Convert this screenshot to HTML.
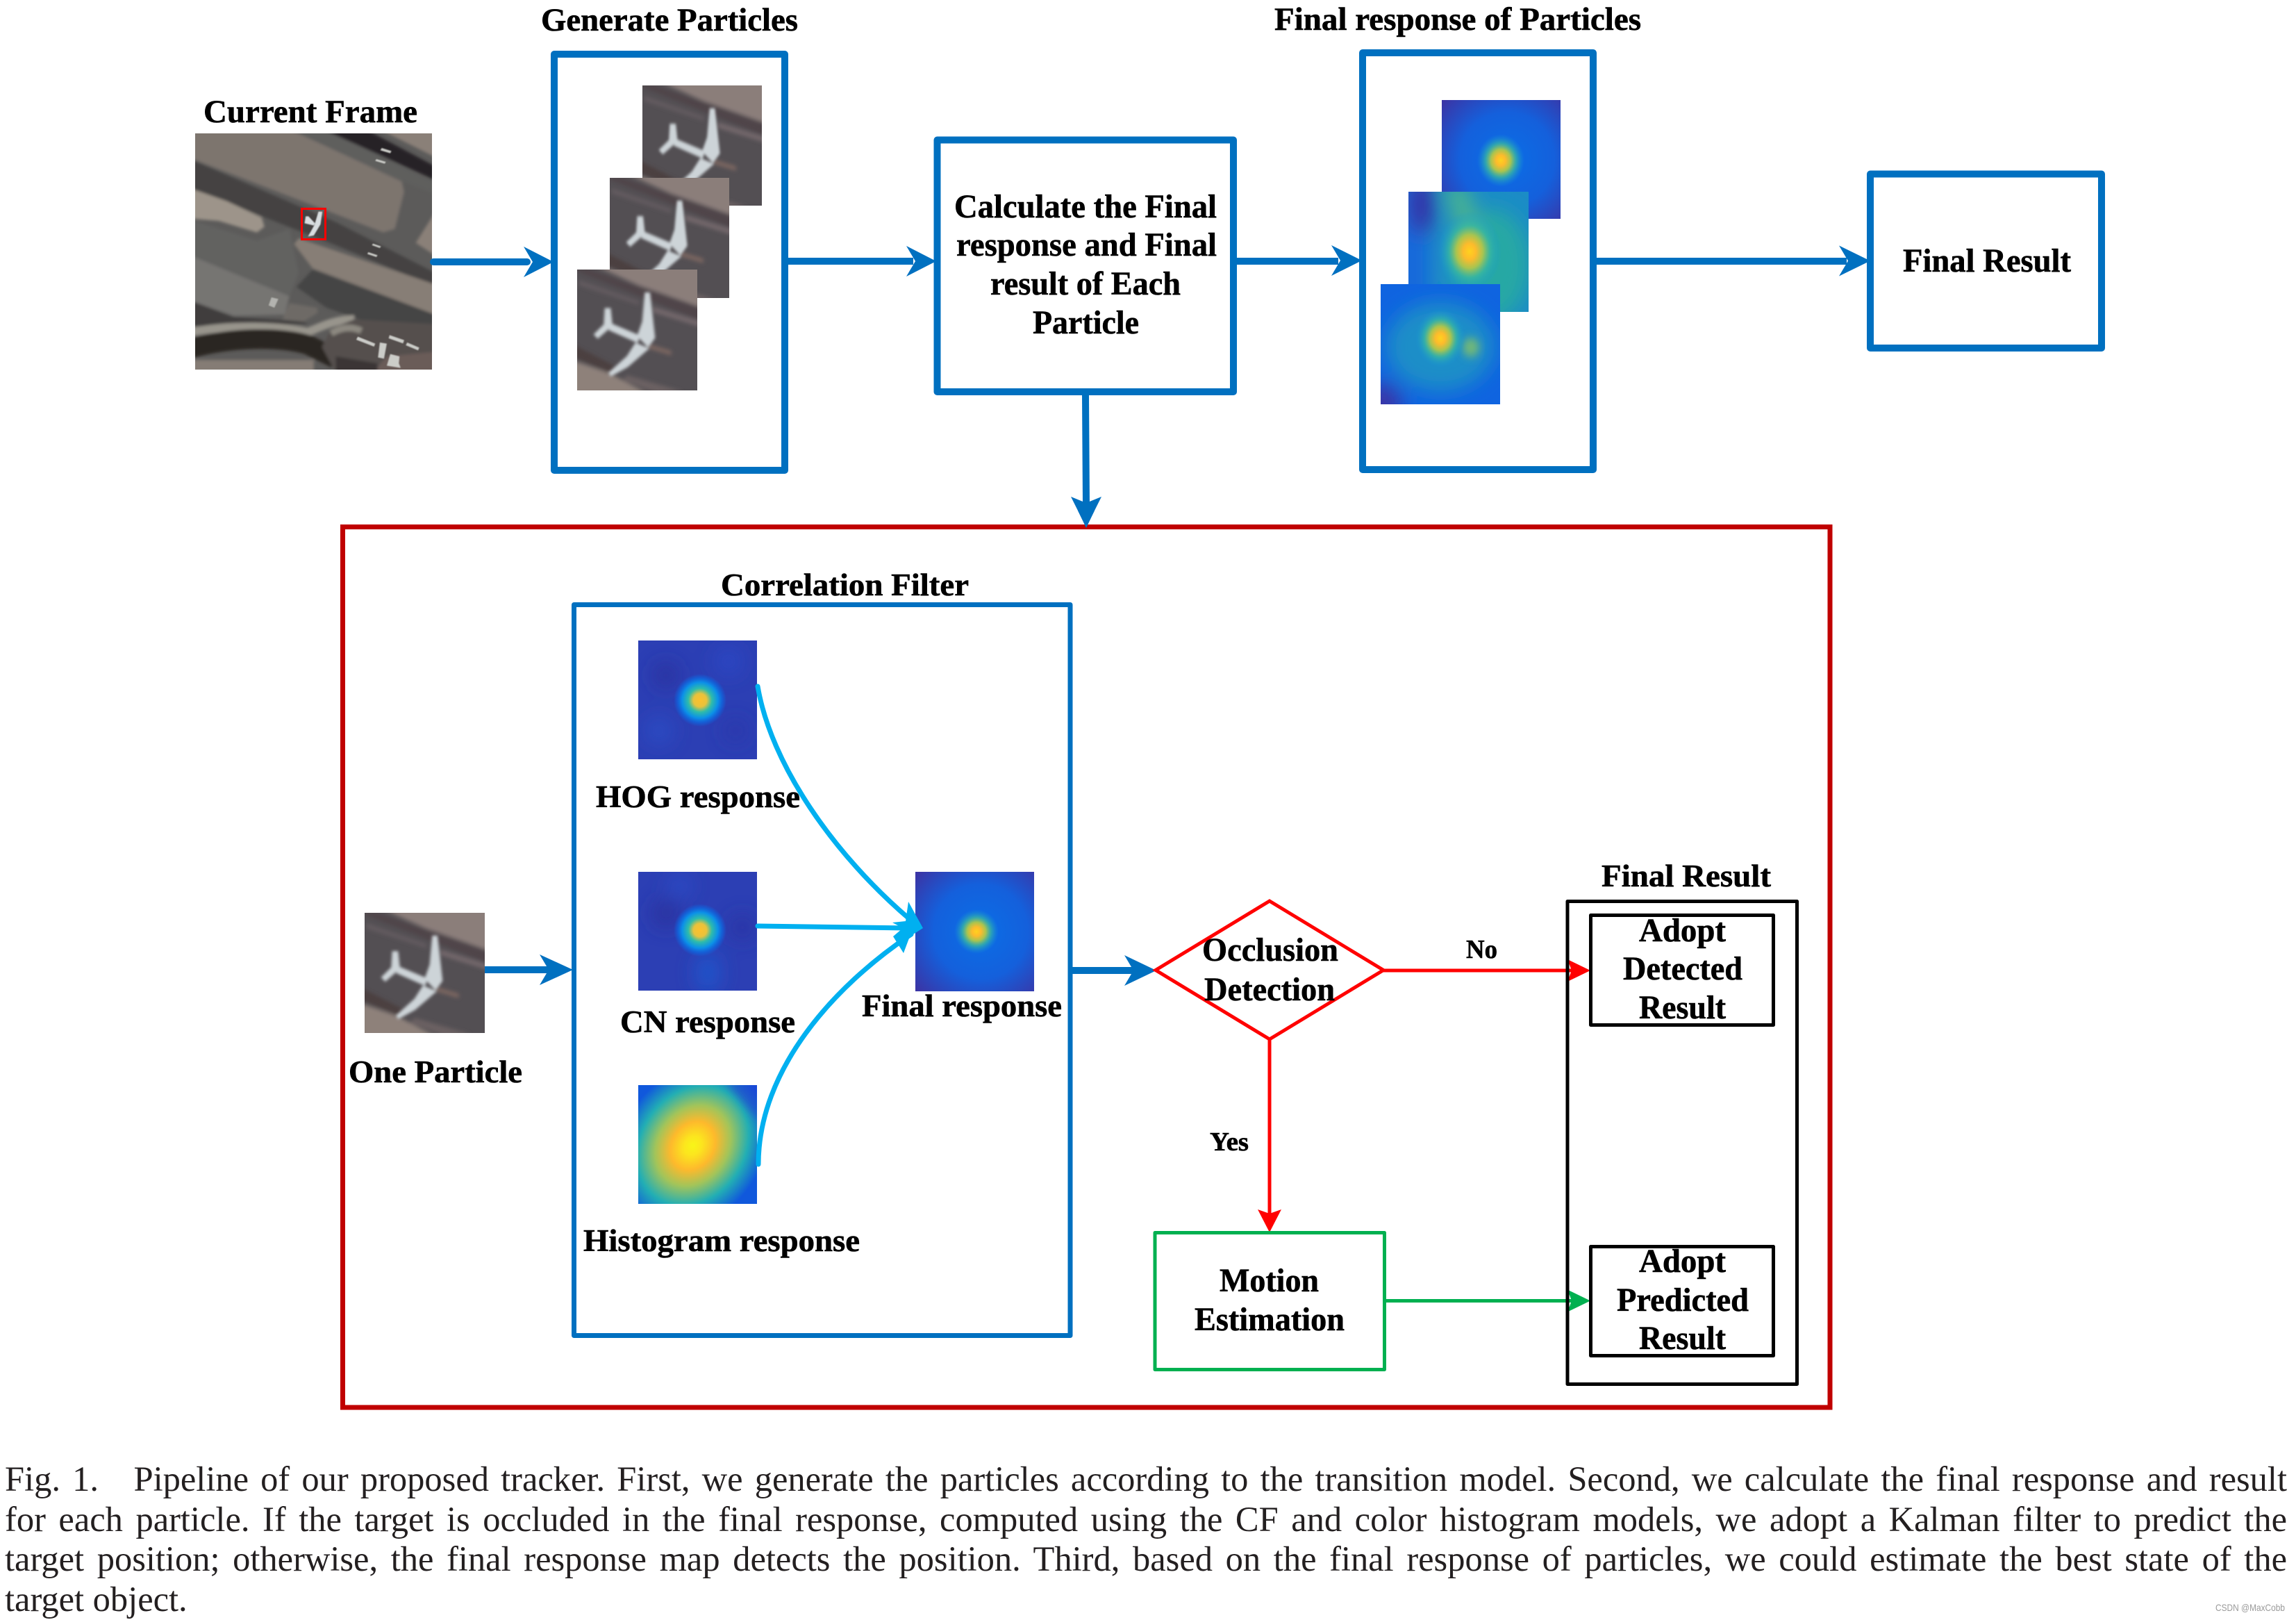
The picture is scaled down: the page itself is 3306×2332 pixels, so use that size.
<!DOCTYPE html>
<html><head><meta charset="utf-8">
<style>
html,body{margin:0;padding:0;background:#fff;width:3306px;height:2330px;overflow:hidden}
svg.main{position:absolute;left:0;top:0}
.cap{position:absolute;left:7px;width:3286px;height:60px;font:50.5px/60px "Liberation Serif",serif;color:#231f20;text-align:justify;text-align-last:justify;overflow:hidden}
.b{font-family:"Liberation Serif",serif;font-weight:bold;fill:#000;stroke:#000;stroke-width:.6px}
</style></head><body>
<svg class="main" width="3306" height="2330" viewBox="0 0 3306 2330" xmlns="http://www.w3.org/2000/svg">
<defs>
<filter id="bl" x="-10%" y="-10%" width="120%" height="120%"><feGaussianBlur stdDeviation="6"/></filter>
<filter id="bl2" x="-10%" y="-10%" width="120%" height="120%"><feGaussianBlur stdDeviation="9"/></filter>
<filter id="bs" x="-20%" y="-20%" width="140%" height="140%"><feGaussianBlur stdDeviation="2.5"/></filter>
<filter id="bh" x="-50%" y="-50%" width="200%" height="200%"><feGaussianBlur stdDeviation="14"/></filter>
<filter id="bg" x="-50%" y="-50%" width="200%" height="200%"><feGaussianBlur stdDeviation="6"/></filter>
<radialGradient id="pk"><stop offset="0" stop-color="#ffd21e"/><stop offset=".2" stop-color="#fdbb2c"/><stop offset=".42" stop-color="#a8c450"/><stop offset=".65" stop-color="#3ab8a0" stop-opacity=".75"/><stop offset="1" stop-color="#1598d8" stop-opacity="0"/></radialGradient>
<radialGradient id="pks"><stop offset="0" stop-color="#fdc02c"/><stop offset=".25" stop-color="#e8c23c"/><stop offset=".45" stop-color="#2fbcaa"/><stop offset=".68" stop-color="#0b90e8"/><stop offset=".85" stop-color="#1064dd" stop-opacity=".8"/><stop offset="1" stop-color="#1064dd" stop-opacity="0"/></radialGradient>
<radialGradient id="hb" cx=".55" cy=".5" r=".72"><stop offset="0" stop-color="#0a6ee6"/><stop offset=".55" stop-color="#1460dc"/><stop offset="1" stop-color="#3a35a6"/></radialGradient>
<radialGradient id="hist" cx=".46" cy=".51" r=".72" gradientTransform="translate(.46 .51) rotate(35) scale(.82 1) translate(-.46 -.51)"><stop offset="0" stop-color="#f8f518"/><stop offset=".12" stop-color="#fce51e"/><stop offset=".3" stop-color="#fdb92c"/><stop offset=".5" stop-color="#a2c45a"/><stop offset=".74" stop-color="#22aeb4"/><stop offset="1" stop-color="#1058dc"/></radialGradient>
<symbol id="thumb" viewBox="33 27 519 518" preserveAspectRatio="none">
<rect x="33" y="27" width="519" height="518" fill="#534f53"/>
<g filter="url(#bl2)">
<polygon points="110,10 570,10 570,190 300,95" fill="#8b7e7a"/>
<polygon points="10,25 80,25 570,195 570,245" fill="#50444a"/>
<polygon points="40,70 300,160 300,180 40,95" fill="#625a5e"/>
<polygon points="360,185 570,250 570,275 360,210" fill="#72666a"/>
<polygon points="10,345 10,400 180,470 195,440" fill="#4c3f40"/>
<polygon points="10,415 10,560 340,560 170,470" fill="#8e817a"/>
<polygon points="340,345 440,375 440,395 340,365" fill="#7c6661"/>
<polygon points="250,480 490,550 380,560 230,500" fill="#6a6062"/>
</g>
<g fill="#cdd4d8" filter="url(#bl)">
<polygon points="325,125 348,125 370,320 340,362 292,312 314,250"/>
<polygon points="285,340 345,365 252,445 178,486 168,470 248,398"/>
<polygon points="176,256 305,310 295,342 170,287"/>
<polygon points="152,192 178,192 186,268 122,324 104,305 148,262"/>
</g>
</symbol>
</defs>

<!-- Current frame aerial -->
<svg x="281" y="192" width="341" height="340" viewBox="33 37 1022 1020" preserveAspectRatio="none">
<rect x="33" y="37" width="1022" height="1020" fill="#5c5b5a"/>
<g filter="url(#bl)">
<polygon points="15,20 445,20 925,245 935,290 895,450 845,465 15,145" fill="#7d746e"/>
<polygon points="15,150 15,275 640,520 1070,700 1070,640 640,420" fill="#444343"/>
<polygon points="440,20 600,20 1070,250 1070,300 930,245" fill="#5f5e5d"/>
<polygon points="585,20 770,20 1070,180 1070,240" fill="#262125"/>
<polygon points="830,20 1070,20 1070,140" fill="#8a8078"/>
<polygon points="985,510 1070,375 1070,565" fill="#8a8078"/>
<polygon points="15,275 15,405 135,415 300,465 332,440 320,400 170,330" fill="#9d948a"/>
<polygon points="460,515 480,490 1070,690 1070,820 540,620" fill="#877e76"/>
<polygon points="470,700 540,625 1070,820 1070,870 1000,930 600,790" fill="#454545"/>
<polygon points="15,565 440,740 420,820 200,825 15,760" fill="#767472"/>
<polygon points="15,410 300,500 440,450 480,640 440,740 15,565" fill="#626260"/>
<polygon points="440,770 560,790 562,812 500,850 410,840" fill="#6e6a66"/>
<polygon points="15,760 200,830 500,850 520,860 15,870" fill="#3f3d3c"/>
<path d="M15 895 C200 860 400 870 520 895 C580 870 640 840 720 840" fill="none" stroke="#98948c" stroke-width="36"/>
<path d="M15 965 C200 915 400 915 520 950 L640 1010" fill="none" stroke="#2b2622" stroke-width="85"/>
<rect x="15" y="1015" width="530" height="60" fill="#857b74"/>
<polygon points="620,880 720,840 1070,860 1070,1070 640,1070 580,960" fill="#54504e"/>
<path d="M620 900 Q690 860 750 890" fill="none" stroke="#8c8880" stroke-width="28"/>
<polygon points="860,1000 1070,980 1070,1070 800,1070" fill="#6a5c58"/>
<polygon points="640,1000 820,1030 820,1070 640,1070" fill="#3a3635"/>
</g>
<g fill="#d2d3cf" filter="url(#bs)" opacity=".95">
<polygon points="735,915 810,945 805,958 728,928"/>
<polygon points="872,908 935,930 930,944 868,922"/>
<polygon points="948,940 1000,962 995,974 942,952"/>
<polygon points="830,940 860,945 848,1010 822,1005"/>
<polygon points="875,990 915,1000 912,1030 920,1050 860,1040"/>
<polygon points="838,100 880,113 875,123 832,110"/>
<polygon points="815,148 856,160 851,168 810,156"/>
<polygon points="800,513 835,525 830,532 796,520"/>
<polygon points="780,550 820,563 815,571 776,558"/>
<polygon points="362,745 392,752 375,790 350,780" opacity=".7"/>
</g>
<g fill="#d8dde0" filter="url(#bs)"><polygon points="565,375 582,375 574,430 545,478 520,482 548,432"/><polygon points="510,395 522,395 550,425 545,435 505,425"/></g>
</svg>
<rect x="434.5" y="300.5" width="34" height="44" fill="none" stroke="#ff0000" stroke-width="3"/>

<!-- Generate particles -->
<rect x="798" y="78" width="332" height="599" fill="none" stroke="#0070c0" stroke-width="10" stroke-linejoin="round"/>
<use href="#thumb" x="925" y="123" width="172" height="173"/>
<use href="#thumb" x="878" y="256" width="172" height="173"/>
<use href="#thumb" x="831" y="388" width="173" height="174"/>

<!-- Final response box -->
<rect x="1962" y="76" width="332" height="600" fill="none" stroke="#0070c0" stroke-width="10" stroke-linejoin="round"/>
<svg x="2076" y="144" width="171" height="171"><rect width="171" height="171" fill="url(#hb)"/><ellipse cx="85" cy="87" rx="34" ry="38" fill="url(#pk)"/></svg>
<svg x="2028" y="276" width="173" height="173">
<rect width="173" height="173" fill="#1b8cc6"/>
<g filter="url(#bh)"><rect x="-20" y="-20" width="50" height="210" fill="#1468dc"/><ellipse cx="18" cy="18" rx="20" ry="45" fill="#3030a8"/><ellipse cx="120" cy="105" rx="55" ry="80" fill="#26a8a4"/><polygon points="50,-10 85,-10 105,70 75,70" fill="#48b490"/></g>
<ellipse cx="88" cy="86" rx="46" ry="58" fill="url(#pk)"/></svg>
<svg x="1988" y="409" width="172" height="173">
<rect width="172" height="173" fill="#0f64e0"/>
<g filter="url(#bh)"><ellipse cx="86" cy="90" rx="78" ry="64" fill="#1a8ec8"/><circle cx="0" cy="173" r="30" fill="#3a35a6"/></g>
<ellipse cx="130" cy="91" rx="12" ry="14" fill="#72b878" filter="url(#bg)"/>
<ellipse cx="86" cy="78" rx="36" ry="42" fill="url(#pk)"/></svg>

<!-- Center box -->
<rect x="1349.5" y="201.5" width="426.5" height="362.5" fill="none" stroke="#0070c0" stroke-width="10" stroke-linejoin="round"/>
<!-- Final result top -->
<rect x="2693" y="250.5" width="333" height="250.5" fill="none" stroke="#0070c0" stroke-width="10" stroke-linejoin="round"/>

<!-- Top arrows -->
<g fill="#0070c0" stroke="none">
<rect x="619" y="372" width="145" height="10" rx="5"/><polygon points="797,377 754,355 767,377 754,399"/>
<rect x="1135" y="371" width="180" height="10"/><polygon points="1348,376 1305,354 1318,376 1305,398"/>
<rect x="1781" y="371" width="146" height="10"/><polygon points="1961,375 1917,353 1930,375 1917,397"/>
<rect x="2299" y="371" width="360" height="10"/><polygon points="2693,375.500 2648,353.500 2661,375.500 2648,397.500"/>
<polygon points="1558,569 1568,569 1569,725 1559,725"/><polygon points="1564,759 1542,715 1564,724 1586,715"/>
</g>

<!-- Big red box -->
<rect x="493.5" y="758.500" width="2141.500" height="1267.500" fill="none" stroke="#c00000" stroke-width="7"/>
<polygon points="1564,760 1552,735 1576,735" fill="#0070c0"/>

<!-- Correlation box -->
<rect x="826.5" y="870.500" width="714.500" height="1052" fill="none" stroke="#0070c0" stroke-width="7" stroke-linejoin="round"/>
<svg x="919" y="922" width="171" height="171">
<rect width="171" height="171" fill="#2c3fb4"/>
<g filter="url(#bh)" opacity=".8"><circle cx="40" cy="50" r="18" fill="#2a2f9a"/><circle cx="130" cy="30" r="20" fill="#2a4ac8"/><circle cx="30" cy="130" r="20" fill="#2b4fc8"/><circle cx="140" cy="130" r="16" fill="#2a35a8"/></g>
<circle cx="89" cy="86" r="38" fill="url(#pks)"/></svg>
<svg x="919" y="1255" width="171" height="171">
<rect width="171" height="171" fill="#2c3fb4"/>
<g filter="url(#bh)" opacity=".8"><circle cx="40" cy="60" r="20" fill="#2a2f9a"/><circle cx="60" cy="20" r="16" fill="#2a50cc"/><circle cx="150" cy="80" r="18" fill="#2a30a0"/><ellipse cx="100" cy="145" rx="18" ry="30" fill="#1f5ad0"/></g>
<circle cx="89" cy="84" r="38" fill="url(#pks)"/></svg>
<svg x="919" y="1562" width="171" height="171"><rect width="171" height="171" fill="url(#hist)"/><polygon points="125,-5 176,-5 176,55" fill="#2038d0" opacity=".55" filter="url(#bg)"/></svg>
<svg x="1318" y="1255" width="171" height="172"><rect width="171" height="172" fill="url(#hb)"/><circle cx="88" cy="86" r="32" fill="url(#pk)"/></svg>
<use href="#thumb" x="525" y="1314" width="173" height="173"/>

<!-- Curves -->
<g fill="none" stroke="#00b0f0" stroke-width="7" stroke-linecap="round">
<path d="M1091 988 C1110 1100 1200 1230 1312 1325"/>
<path d="M1091 1333 L1312 1336"/>
<path d="M1092 1676 C1092 1540 1200 1420 1312 1345"/>
</g>
<polygon points="1329,1336 1308,1298 1304,1326 1285,1328 1300,1336 1286,1348 1301,1372 1310,1348" fill="#00b0f0"/>

<!-- Lower arrows -->
<g fill="#0070c0">
<rect x="698" y="1391" width="92" height="10"/><polygon points="825,1396 777,1374 790,1396 777,1418"/>
<rect x="1541" y="1392" width="92" height="10"/><polygon points="1665,1397 1619,1375 1632,1397 1619,1419"/>
</g>
<polygon points="1664,1396.500 1828,1297 1992,1396.500 1828,1496" fill="none" stroke="#ff0000" stroke-width="5"/>
<line x1="1992" y1="1397" x2="2265" y2="1397" stroke="#ff0000" stroke-width="5"/>
<polygon points="2290,1397 2257,1381 2263,1397 2257,1413" fill="#ff0000"/>
<line x1="1828" y1="1496" x2="1828" y2="1750" stroke="#ff0000" stroke-width="5"/>
<polygon points="1828,1774 1811,1741 1828,1747 1845,1741" fill="#ff0000"/>
<rect x="1663" y="1774.500" width="330.500" height="197" fill="none" stroke="#00b050" stroke-width="5" stroke-linejoin="round"/>
<line x1="1995" y1="1872.500" x2="2265" y2="1872.500" stroke="#00b050" stroke-width="5"/>
<polygon points="2290,1872.500 2257,1856.500 2263,1872.500 2257,1888.500" fill="#00b050"/>
<rect x="2257" y="1297.500" width="330.500" height="695" fill="none" stroke="#000" stroke-width="5" stroke-linejoin="round"/>
<rect x="2290.500" y="1317.500" width="263" height="158" fill="none" stroke="#000" stroke-width="5" stroke-linejoin="round"/>
<rect x="2290.500" y="1794.500" width="263" height="157" fill="none" stroke="#000" stroke-width="5" stroke-linejoin="round"/>

<!-- Labels -->
<text class="b" font-size="47" x="779" y="44" textLength="370" lengthAdjust="spacingAndGlyphs">Generate Particles</text>
<text class="b" font-size="47" x="293" y="176" textLength="308" lengthAdjust="spacingAndGlyphs">Current Frame</text>
<text class="b" font-size="47" x="1835" y="43" textLength="528" lengthAdjust="spacingAndGlyphs">Final response of Particles</text>
<text class="b" font-size="48" x="2740" y="391" textLength="242" lengthAdjust="spacingAndGlyphs">Final Result</text>
<text class="b" font-size="48" x="1374" y="313" textLength="378" lengthAdjust="spacingAndGlyphs">Calculate the Final</text>
<text class="b" font-size="48" x="1377" y="368" textLength="375" lengthAdjust="spacingAndGlyphs">response and Final</text>
<text class="b" font-size="48" x="1426" y="424" textLength="274" lengthAdjust="spacingAndGlyphs">result of Each</text>
<text class="b" font-size="48" x="1487" y="480" textLength="153" lengthAdjust="spacingAndGlyphs">Particle</text>
<text class="b" font-size="45" x="1038" y="857" textLength="357" lengthAdjust="spacingAndGlyphs">Correlation Filter</text>
<text class="b" font-size="45" x="858" y="1162" textLength="294" lengthAdjust="spacingAndGlyphs">HOG response</text>
<text class="b" font-size="45" x="893" y="1486" textLength="252" lengthAdjust="spacingAndGlyphs">CN response</text>
<text class="b" font-size="45" x="1241" y="1463" textLength="288" lengthAdjust="spacingAndGlyphs">Final response</text>
<text class="b" font-size="45" x="502" y="1558" textLength="250" lengthAdjust="spacingAndGlyphs">One Particle</text>
<text class="b" font-size="45" x="840" y="1801" textLength="398" lengthAdjust="spacingAndGlyphs">Histogram response</text>
<text class="b" font-size="46" x="2306" y="1276" textLength="244" lengthAdjust="spacingAndGlyphs">Final Result</text>
<text class="b" font-size="48" x="2360" y="1355" textLength="125" lengthAdjust="spacingAndGlyphs">Adopt</text>
<text class="b" font-size="48" x="2337" y="1410" textLength="172" lengthAdjust="spacingAndGlyphs">Detected</text>
<text class="b" font-size="48" x="2360" y="1466" textLength="125" lengthAdjust="spacingAndGlyphs">Result</text>
<text class="b" font-size="48" x="2360" y="1831" textLength="125" lengthAdjust="spacingAndGlyphs">Adopt</text>
<text class="b" font-size="48" x="2328" y="1887" textLength="190" lengthAdjust="spacingAndGlyphs">Predicted</text>
<text class="b" font-size="48" x="2360" y="1942" textLength="125" lengthAdjust="spacingAndGlyphs">Result</text>
<text class="b" font-size="48" x="1731" y="1383" textLength="196" lengthAdjust="spacingAndGlyphs">Occlusion</text>
<text class="b" font-size="48" x="1734" y="1440" textLength="188" lengthAdjust="spacingAndGlyphs">Detection</text>
<text class="b" font-size="48" x="1756" y="1859" textLength="143" lengthAdjust="spacingAndGlyphs">Motion</text>
<text class="b" font-size="48" x="1720" y="1915" textLength="216" lengthAdjust="spacingAndGlyphs">Estimation</text>
<text class="b" font-size="38" x="2111" y="1379" textLength="45" lengthAdjust="spacingAndGlyphs">No</text>
<text class="b" font-size="38" x="1742" y="1656" textLength="56" lengthAdjust="spacingAndGlyphs">Yes</text>
<text x="3190" y="2319" font-family="Liberation Sans,sans-serif" font-size="14" fill="#9a9a9a" textLength="100" lengthAdjust="spacingAndGlyphs">CSDN @MaxCobb</text>
</svg>
<div class="cap" style="top:2099px">Fig. 1.&emsp;Pipeline of our proposed tracker. First, we generate the particles according to the transition model. Second, we calculate the final response and result</div>
<div class="cap" style="top:2157px">for each particle. If the target is occluded in the final response, computed using the CF and color histogram models, we adopt a Kalman filter to predict the</div>
<div class="cap" style="top:2214px">target position; otherwise, the final response map detects the position. Third, based on the final response of particles, we could estimate the best state of the</div>
<div class="cap" style="top:2272px;text-align-last:left">target object.</div>
</body></html>
